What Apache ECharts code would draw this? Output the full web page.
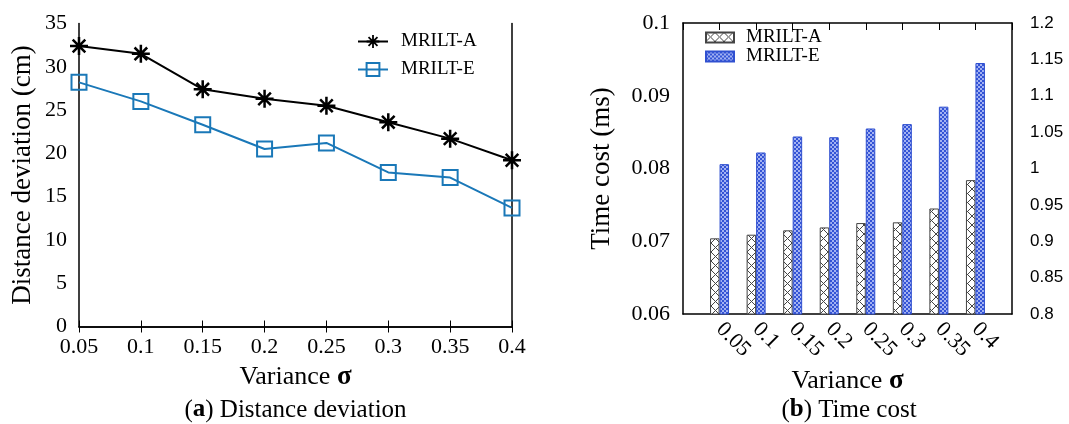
<!DOCTYPE html>
<html>
<head>
<meta charset="utf-8">
<script src="https://cdn.jsdelivr.net/npm/echarts@6/dist/echarts.min.js"></script>
<style>
html, body { margin: 0; padding: 0; background: #fff; }
#chart { width: 1069px; height: 424px; }
</style>
</head>
<body>
<div id="chart"></div>
<script>
// 数据
var sigmaLabels = ['0.05', '0.1', '0.15', '0.2', '0.25', '0.3', '0.35', '0.4'];
var distA = [32.4, 31.5, 27.4, 26.3, 25.5, 23.6, 21.7, 19.2];
var distE = [28.2, 26.0, 23.3, 20.5, 21.2, 17.8, 17.2, 13.7];
var timeA = [0.0704, 0.0709, 0.0715, 0.0719, 0.0725, 0.0726, 0.0745, 0.0784];
var timeE = [1.006, 1.022, 1.044, 1.043, 1.055, 1.061, 1.085, 1.145];
var distTicks = [0, 35, 5];
var timeTicksA = [0.06, 0.1, 0.01];
var timeTicksE = [0.8, 1.2, 0.05];

// 右图的 x 轴两端各留一格空位
var paddedLabels = [''].concat(sigmaLabels, ['']);
var paddedA = [null].concat(timeA, [null]);
var paddedE = [null].concat(timeE, [null]);

var serif = 'Liberation Serif';
var blue = '#1a78b8';

// 星形标记（米字）
var starPath = 'path://M0 43H100V57H0Z M43 0H57V100H43Z ' +
    'M19.95 10.05L89.95 80.05L80.05 89.95L10.05 19.95Z ' +
    'M80.05 10.05L89.95 19.95L19.95 89.95L10.05 80.05Z';

// 柱子的填充纹理
function crossPattern() {
    var c = document.createElement('canvas');
    c.width = 9; c.height = 9;
    var ctx = c.getContext('2d');
    ctx.fillStyle = '#fff';
    ctx.fillRect(0, 0, 9, 9);
    ctx.strokeStyle = '#444';
    ctx.lineWidth = 1;
    ctx.beginPath();
    ctx.moveTo(0, 0); ctx.lineTo(9, 9);
    ctx.moveTo(9, 0); ctx.lineTo(0, 9);
    ctx.stroke();
    return c;
}
function checkPattern() {
    var c = document.createElement('canvas');
    c.width = 4; c.height = 4;
    var ctx = c.getContext('2d');
    ctx.fillStyle = '#3454d6';
    ctx.fillRect(0, 0, 4, 4);
    ctx.fillStyle = '#a3b2f2';
    ctx.fillRect(0, 0, 2, 2);
    ctx.fillRect(2, 2, 2, 2);
    return c;
}

var axisLine = { lineStyle: { color: '#000', width: 1.5 } };
var tickIn = { inside: true, length: 6, lineStyle: { color: '#000', width: 1 } };
var nameRich = { s: { fontFamily: serif, fontSize: 27, fontWeight: 'bold', color: '#000' } };

var myChart = echarts.init(document.getElementById('chart'));

var option = {
    animation: false,
    textStyle: { fontFamily: serif, color: '#000' },
    grid: [
        { left: 79, top: 23.5, width: 433, height: 303 },
        { left: 683, top: 23, width: 329, height: 291 }
    ],
    legend: [
        {
            data: ['MRILT-A', 'MRILT-E'],
            orient: 'vertical',
            left: 357, top: 32,
            padding: 0, itemGap: 9,
            itemWidth: 30, itemHeight: 16,
            textStyle: { fontFamily: serif, fontSize: 19, color: '#000', padding: [0, 0, 0, 8] },
            selectedMode: false
        },
        {
            data: ['MRILT-A (time)', 'MRILT-E (time)'],
            orient: 'vertical',
            left: 705, top: 28,
            padding: 0, itemGap: 0,
            itemWidth: 28, itemHeight: 10,
            icon: 'rect',
            formatter: function (n) { return n.replace(' (time)', ''); },
            textStyle: { fontFamily: serif, fontSize: 19, color: '#000', padding: [0, 0, 0, 7] },
            selectedMode: false
        }
    ],
    xAxis: [
        {
            gridIndex: 0, type: 'category', data: sigmaLabels, boundaryGap: false,
            axisLine: axisLine, axisTick: tickIn,
            axisLabel: { fontFamily: serif, fontSize: 22, color: '#000', margin: 10, interval: 0 },
            name: 'Variance {s|σ}', nameLocation: 'middle', nameGap: 37,
            nameTextStyle: { fontFamily: serif, fontSize: 26, color: '#000', rich: nameRich }
        },
        {
            gridIndex: 0, type: 'category', data: sigmaLabels, boundaryGap: false, position: 'top',
            axisLine: axisLine, axisTick: tickIn, axisLabel: { show: false }
        },
        {
            gridIndex: 1, type: 'category', data: paddedLabels, boundaryGap: false,
            axisLine: axisLine, axisTick: { show: false },
            axisLabel: { fontFamily: serif, fontSize: 22, color: '#000', rotate: -45, margin: 12, interval: 0 },
            name: 'Variance {s|σ}', nameLocation: 'middle', nameGap: 49,
            nameTextStyle: { fontFamily: serif, fontSize: 26, color: '#000', rich: nameRich }
        },
        {
            gridIndex: 1, type: 'category', data: paddedLabels, boundaryGap: false, position: 'top',
            axisLine: axisLine, axisTick: { inside: true, length: 7, interval: 0, lineStyle: { color: '#000' } },
            axisLabel: { show: false }
        }
    ],
    yAxis: [
        {
            gridIndex: 0, type: 'value', min: distTicks[0], max: distTicks[1], interval: distTicks[2],
            axisLine: { show: true, lineStyle: axisLine.lineStyle }, axisTick: tickIn, splitLine: { show: false },
            axisLabel: { fontFamily: serif, fontSize: 22, color: '#000', margin: 12 },
            name: 'Distance deviation (cm)', nameLocation: 'middle', nameGap: 43,
            nameTextStyle: { fontFamily: serif, fontSize: 27, color: '#000' }
        },
        {
            gridIndex: 0, type: 'value', position: 'right', min: distTicks[0], max: distTicks[1], interval: distTicks[2],
            axisLine: { show: true, lineStyle: axisLine.lineStyle }, axisTick: tickIn, splitLine: { show: false },
            axisLabel: { show: false }
        },
        {
            gridIndex: 1, type: 'value', min: timeTicksA[0], max: timeTicksA[1], interval: timeTicksA[2],
            axisLine: { show: true, lineStyle: axisLine.lineStyle },
            axisTick: { inside: true, length: 8, lineStyle: { color: '#000' } }, splitLine: { show: false },
            axisLabel: { fontFamily: serif, fontSize: 22, color: '#000', margin: 13 },
            name: 'Time cost (ms)', nameLocation: 'middle', nameGap: 68,
            nameTextStyle: { fontFamily: serif, fontSize: 27, color: '#000' }
        },
        {
            gridIndex: 1, type: 'value', position: 'right', min: timeTicksE[0], max: timeTicksE[1], interval: timeTicksE[2],
            axisLine: { show: true, lineStyle: axisLine.lineStyle },
            axisTick: { inside: true, length: 8, lineStyle: { color: '#000' } }, splitLine: { show: false },
            axisLabel: { fontFamily: 'Liberation Sans', fontSize: 17, color: '#000', margin: 18 }
        }
    ],
    series: [
        {
            name: 'MRILT-A', type: 'line', xAxisIndex: 0, yAxisIndex: 0,
            data: distA,
            symbol: starPath, symbolSize: 18,
            itemStyle: { color: '#000' },
            lineStyle: { color: '#000', width: 2 }
        },
        {
            name: 'MRILT-E', type: 'line', xAxisIndex: 0, yAxisIndex: 0,
            data: distE,
            symbol: 'rect', symbolSize: 15,
            itemStyle: { color: 'rgba(0,0,0,0)', borderColor: blue, borderWidth: 2 },
            lineStyle: { color: blue, width: 2 }
        },
        {
            name: 'MRILT-A (time)', type: 'bar', xAxisIndex: 2, yAxisIndex: 2,
            data: paddedA, barWidth: 9.5, barGap: '0%',
            itemStyle: { color: { image: crossPattern(), repeat: 'repeat' }, borderColor: '#444', borderWidth: 1 }
        },
        {
            name: 'MRILT-E (time)', type: 'bar', xAxisIndex: 2, yAxisIndex: 3,
            data: paddedE, barWidth: 9.5, barGap: '0%',
            itemStyle: { color: { image: checkPattern(), repeat: 'repeat' }, borderColor: '#3050d0', borderWidth: 1 }
        }
    ],
    graphic: [
        {
            type: 'text', x: 295.5, y: 410,
            style: {
                text: '({b|a}) Distance deviation', align: 'center', verticalAlign: 'middle',
                fontFamily: serif, fontSize: 25, fill: '#000',
                rich: { b: { fontFamily: serif, fontSize: 25, fontWeight: 'bold', fill: '#000' } }
            }
        },
        {
            type: 'text', x: 849, y: 410,
            style: {
                text: '({b|b}) Time cost', align: 'center', verticalAlign: 'middle',
                fontFamily: serif, fontSize: 25, fill: '#000',
                rich: { b: { fontFamily: serif, fontSize: 25, fontWeight: 'bold', fill: '#000' } }
            }
        }
    ]
};

myChart.setOption(option);
</script>
</body>
</html>
